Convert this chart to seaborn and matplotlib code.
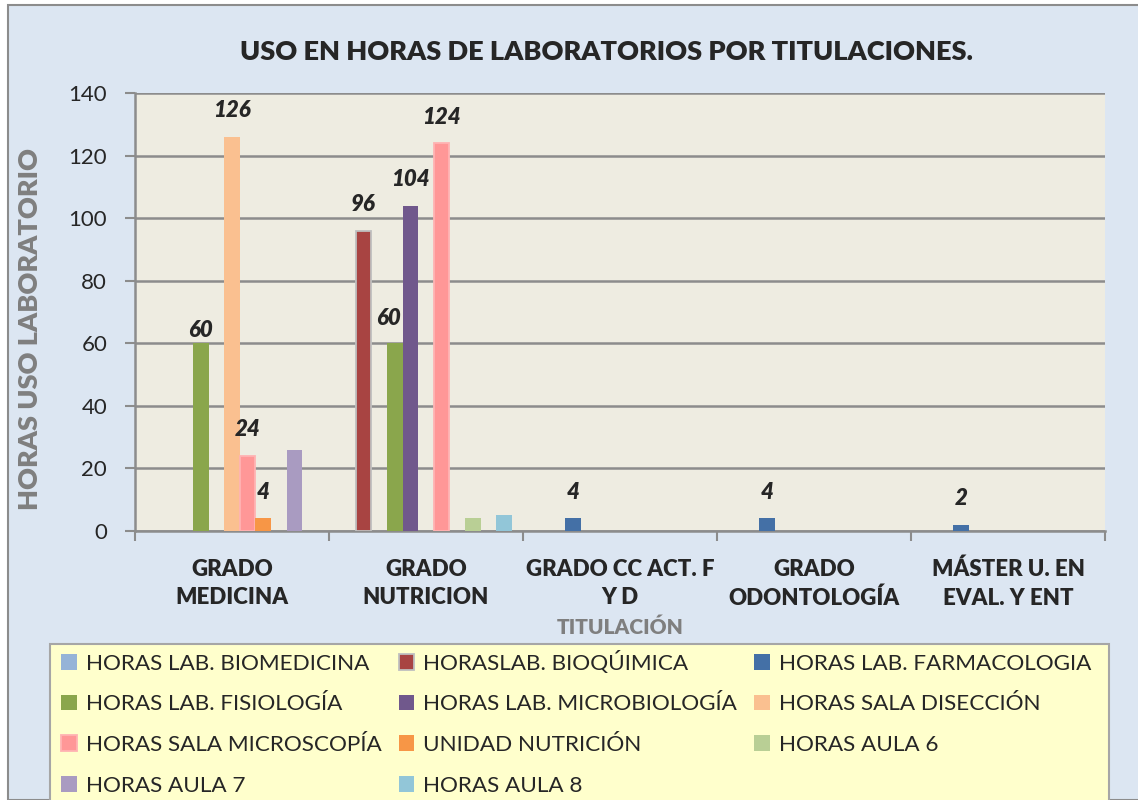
import matplotlib
matplotlib.use("Agg")
import matplotlib.pyplot as plt
from matplotlib.patches import Patch, Rectangle
import seaborn as sns
import pandas as pd

categorias = ["GRADO\nMEDICINA", "GRADO\nNUTRICION", "GRADO CC ACT. F\nY D",
              "GRADO\nODONTOLOGÍA", "MÁSTER U. EN\nEVAL. Y ENT"]
series = ["HORAS LAB. BIOMEDICINA", "HORASLAB. BIOQÚIMICA", "HORAS LAB. FARMACOLOGIA",
          "HORAS LAB. FISIOLOGÍA", "HORAS LAB. MICROBIOLOGÍA", "HORAS SALA DISECCIÓN",
          "HORAS SALA MICROSCOPÍA", "UNIDAD NUTRICIÓN", "HORAS AULA 6",
          "HORAS AULA 7", "HORAS AULA 8"]
biomedicina   = [0, 0, 0, 0, 0]
bioquimica    = [0, 96, 0, 0, 0]
farmacologia  = [0, 0, 4, 4, 2]
fisiologia    = [60, 60, 0, 0, 0]
microbiologia = [0, 104, 0, 0, 0]
diseccion     = [126, 0, 0, 0, 0]
microscopia   = [24, 124, 0, 0, 0]
unidad_nutr   = [4, 0, 0, 0, 0]
aula6         = [0, 4, 0, 0, 0]
aula7         = [26, 0, 0, 0, 0]
aula8         = [0, 5, 0, 0, 0]
valores = [biomedicina, bioquimica, farmacologia, fisiologia, microbiologia, diseccion,
           microscopia, unidad_nutr, aula6, aula7, aula8]
# series whose data labels are shown
con_etiqueta = ["HORASLAB. BIOQÚIMICA", "HORAS LAB. FARMACOLOGIA", "HORAS LAB. FISIOLOGÍA",
                "HORAS LAB. MICROBIOLOGÍA", "HORAS SALA DISECCIÓN",
                "HORAS SALA MICROSCOPÍA", "UNIDAD NUTRICIÓN"]

colores = ["#95B3D7", "#A84442", "#4470A6", "#8AA64C", "#70588C", "#FAC090",
           "#FF9797", "#F79646", "#B9CF95", "#A99BC1", "#92C6D8"]
bordes = {"HORASLAB. BIOQÚIMICA": "#BFBFBF", "HORAS SALA MICROSCOPÍA": "#FFB3B3"}

rows = []
for s, vals in zip(series, valores):
    for c, v in zip(categorias, vals):
        rows.append({"titulacion": c, "serie": s, "horas": v})
df = pd.DataFrame(rows)

sns.set_theme(style="white")
plt.rcParams["font.family"] = ["Lato", "DejaVu Sans"]
BOLD = "heavy"

W, H = 1138, 800
fig = plt.figure(figsize=(W / 100, H / 100), dpi=100, facecolor="white")
# chart area background
fig.patches.append(Rectangle((8 / W, 0), 1.0, 1 - 5 / H, transform=fig.transFigure,
                             facecolor="#DCE6F2", edgecolor="#8C8C8C", lw=1.5, zorder=-5))
# legend box
fig.patches.append(Rectangle((50 / W, -0.05), (1109 - 50) / W, 0.05 + 1 - 644 / H,
                             transform=fig.transFigure, facecolor="#FFFFCC",
                             edgecolor="#A6A6A6", lw=1.5, zorder=-4))

ax = fig.add_axes([135 / W, 1 - 531 / H, (1105 - 135) / W, (531 - 93) / H])
ax.set_zorder(2)
ax.set_facecolor("#EEECE1")
sns.barplot(data=df, x="titulacion", y="horas", hue="serie", order=categorias,
            hue_order=series, palette=colores, width=0.886, saturation=1,
            dodge=True, legend=False, ax=ax, zorder=3, linewidth=0)
for s, cont in zip(series, ax.containers):
    if s in bordes:
        for bar in cont.patches:
            if bar.get_height() > 0:
                bar.set_edgecolor(bordes[s])
                bar.set_linewidth(1.3)

ax.set_ylim(0, 140)
ax.set_xlim(-0.5, 4.5)
ax.set_yticks(range(0, 141, 20))
ax.yaxis.grid(True, color="#8C8C8C", lw=1.8, zorder=1)
ax.set_axisbelow(True)
for sp in ["top", "right"]:
    ax.spines[sp].set_visible(False)
for sp in ["left", "bottom"]:
    ax.spines[sp].set_color("#8C8C8C")
    ax.spines[sp].set_linewidth(1.8)
ax.tick_params(axis="y", which="major", direction="out", length=7, width=1.5,
               color="#8C8C8C", labelsize=16, pad=13, left=True)
ax.set_xticks(range(len(categorias)))
ax.set_xticklabels(categorias, fontsize=16, fontweight=BOLD, linespacing=1.45)
ax.set_xticks([i - 0.5 for i in range(len(categorias) + 1)], minor=True)
ax.tick_params(axis="x", which="major", length=0, pad=20)
ax.tick_params(axis="x", which="minor", direction="out", length=7, width=1.5,
               color="#8C8C8C", bottom=True)
ax.set_xlabel("TITULACIÓN", fontsize=15, fontweight=BOLD, color="#7F7F7F", labelpad=6)
ax.set_ylabel("HORAS USO LABORATORIO", fontsize=19.5, fontweight=BOLD, color="#7F7F7F")
ax.yaxis.set_label_coords(-(135 - 42) / 970, (531 - 329) / 438)

# data labels
desplaz = {("GRADO\nMEDICINA", "HORAS LAB. FISIOLOGÍA"): (0, 13),
           ("GRADO\nNUTRICION", "HORAS LAB. FISIOLOGÍA"): (-6, 25)}
for s, cont in zip(series, ax.containers):
    if s not in con_etiqueta:
        continue
    for c, bar in zip(categorias, cont.patches):
        h = bar.get_height()
        if h <= 0:
            continue
        dx, dy = desplaz.get((c, s), (0, 26))
        ax.annotate(f"{h:g}", xy=(bar.get_x() + bar.get_width() / 2, h),
                    xytext=(dx * 0.72, dy * 0.72), textcoords="offset points",
                    ha="center", va="center", fontsize=16, fontweight=BOLD,
                    fontstyle="italic", zorder=5)

fig.text(606 / W, 1 - 52 / H, "USO EN HORAS DE LABORATORIOS POR TITULACIONES.",
         fontsize=19.5, fontweight=BOLD, ha="center", va="center")

# legend, filled row by row
ncol = 3
handles = [Patch(facecolor=col, edgecolor=bordes.get(s, "none"), lw=1.3)
           for s, col in zip(series, colores)]
order = []
nrows = -(-len(series) // ncol)
for col in range(ncol):
    for r in range(nrows):
        i = r * ncol + col
        if i < len(series):
            order.append(i)
leg = fig.legend([handles[i] for i in order], [series[i] for i in order],
                 loc="upper left", bbox_to_anchor=(50 / W, 1 - 639.5 / H), ncol=ncol,
                 fontsize=16.2, frameon=False, handlelength=0.7, handleheight=0.7,
                 handletextpad=0.4, labelspacing=0.92, columnspacing=0.75, borderpad=0)

fig.savefig("out.png", dpi=100, facecolor="white")
